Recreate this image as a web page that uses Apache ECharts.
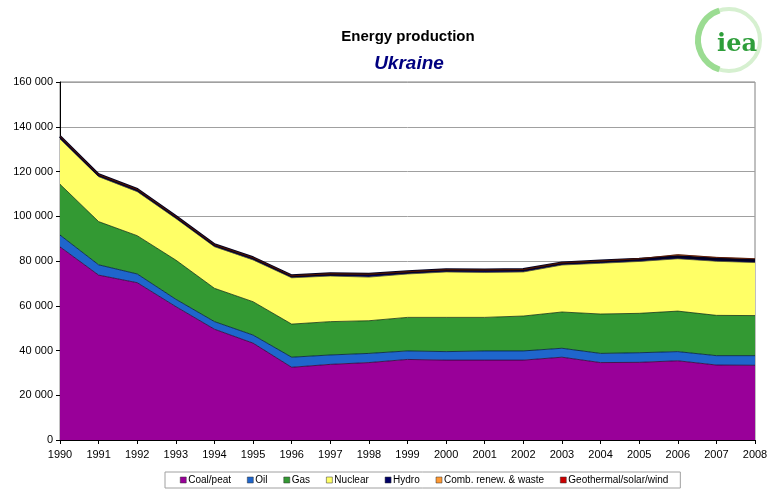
<!DOCTYPE html>
<html>
<head>
<meta charset="utf-8">
<script src="https://cdn.jsdelivr.net/npm/echarts@6/dist/echarts.min.js"></script>
<style>
html,body{margin:0;padding:0;background:#fff;}
#chart{width:772px;height:495px;}
</style>
</head>
<body>
<div id="chart"></div>
<script>
const years = ['1990','1991','1992','1993','1994','1995','1996','1997','1998','1999','2000','2001','2002','2003','2004','2005','2006','2007','2008'];
const coal    = [86300,73700,70300,59600,49500,43300,32500,33800,34600,36000,35700,35700,35700,37000,34600,34700,35400,33500,33400];
const oil     = [5300,4600,3900,3300,3400,3600,4500,4200,4100,3800,3800,4100,4100,4000,4100,4300,4100,4200,4300];
const gas     = [22700,19300,17100,17500,14900,14900,14800,14900,14600,15000,15300,15000,15600,16200,17600,17600,18100,18000,17900];
const nuclear = [20200,20100,19700,18600,18600,18700,20700,20400,19500,19400,20300,20100,19700,21000,22700,23200,23400,24200,23700];
const hydro   = [1200,900,1000,900,900,1000,900,1000,1300,1000,1000,1100,1100,1000,1000,1000,1000,1000,1000];
const combRen = [0,0,0,0,0,0,0,0,0,0,0,0,0,0,0,200,800,700,700];
const geoSolWind = [0,0,0,0,0,0,0,0,0,0,0,0,0,0,0,0,20,30,40];
const yTicks = [0,20000,40000,60000,80000,100000,120000,140000,160000];

const names = ['Coal/peat','Oil','Gas','Nuclear','Hydro','Comb. renew. & waste','Geothermal/solar/wind'];
const colors = ['#990099','#1f66cc','#339933','#ffff66','#000066','#ff9933','#cc0000'];
const datas = [coal, oil, gas, nuclear, hydro, combRen, geoSolWind];
const lineCols = ['#330033','#001a44','#113311','#555522','#000022','#663300','#440000'];
const lineW = [0.8,0.8,0.8,0.8,2.8,0.8,0.6];

const fmt = v => {
  const s = String(v);
  return s.length > 3 ? s.slice(0, s.length-3) + ' ' + s.slice(-3) : s;
};

const series = names.map((n,i) => ({
  name: n,
  type: 'line',
  stack: 'total',
  data: datas[i],
  symbol: 'none',
  smooth: false,
  lineStyle: {width: lineW[i], color: lineCols[i]},
  areaStyle: {color: colors[i], opacity: 1},
  itemStyle: {color: colors[i]},
  emphasis: {disabled: true},
  z: 2
}));

const chart = echarts.init(document.getElementById('chart'), null, {renderer:'canvas'});
chart.setOption({
  animation: false,
  backgroundColor: '#ffffff',
  textStyle: {fontFamily: 'Liberation Sans, Arial, sans-serif'},
  title: [
    {text: 'Energy production', left: 403, top: 24, textAlign: 'center',
     textStyle: {fontSize: 15, fontWeight: 'bold', color: '#000', fontFamily: 'Liberation Sans'}},
    {text: 'Ukraine', left: 404, top: 49, textAlign: 'center',
     textStyle: {fontSize: 19, fontWeight: 'bold', fontStyle: 'italic', color: '#000080', fontFamily: 'Liberation Sans'}}
  ],
  legend: {
    data: names.map((n,i)=>({name:n, icon:'rect', itemStyle:{color:colors[i], borderColor:'#333', borderWidth:0.5}})),
    left: 165, top: 472,
    itemWidth: 6, itemHeight: 6, itemGap: 16,
    padding: [3, 12, 3, 15],
    borderColor: '#a0a0a0', borderWidth: 1,
    textStyle: {fontSize: 10, color: '#000', padding:[0,0,0,-3], fontFamily: 'Liberation Sans'}
  },
  grid: {left: 60, right: 17, top: 82, bottom: 55, outerBoundsMode: 'none', containLabel: false,
         show: true, borderColor: '#808080', borderWidth: 1, backgroundColor: 'transparent'},
  xAxis: {
    type: 'category', data: years, boundaryGap: false,
    axisLine: {lineStyle: {color: '#000', width: 1}},
    axisTick: {show: true, interval: 0, length: 4, lineStyle: {color: '#000'}},
    axisLabel: {interval: 0, fontSize: 11, color: '#000', margin: 9},
    splitLine: {show: false}
  },
  yAxis: {
    type: 'value', min: 0, max: 160000, interval: 20000,
    name: 'ktoe', nameLocation: 'middle', nameGap: 48, nameRotate: 90,
    nameTextStyle: {fontSize: 11, fontWeight: 'bold', color: '#000'},
    axisLine: {show: true, lineStyle: {color: '#000'}},
    axisTick: {show: true, length: 4, lineStyle: {color: '#000'}},
    axisLabel: {fontSize: 11, color: '#000', margin: 7, formatter: v => yTicks.includes(v) ? fmt(v) : ''},
    splitLine: {show: true, lineStyle: {color: '#a0a0a0', width: 1}}
  },
  graphic: [
    {type: 'circle', shape: {cx: 729, cy: 40, r: 31}, style: {fill: 'none', stroke: '#d6f0d0', lineWidth: 4}},
    {type: 'arc', shape: {cx: 729, cy: 40, r: 31, startAngle: Math.PI*0.6, endAngle: Math.PI*1.4}, style: {fill: 'none', stroke: '#9bdc92', lineWidth: 6}},
    {type: 'text', style: {text: 'iea', x: 737, y: 45, align: 'center', verticalAlign: 'middle', fontSize: 24, fontWeight: 'bold', fontFamily: 'DejaVu Serif', fill: '#2e9e3a'}}
  ],
  series: series
});
</script>
</body>
</html>
